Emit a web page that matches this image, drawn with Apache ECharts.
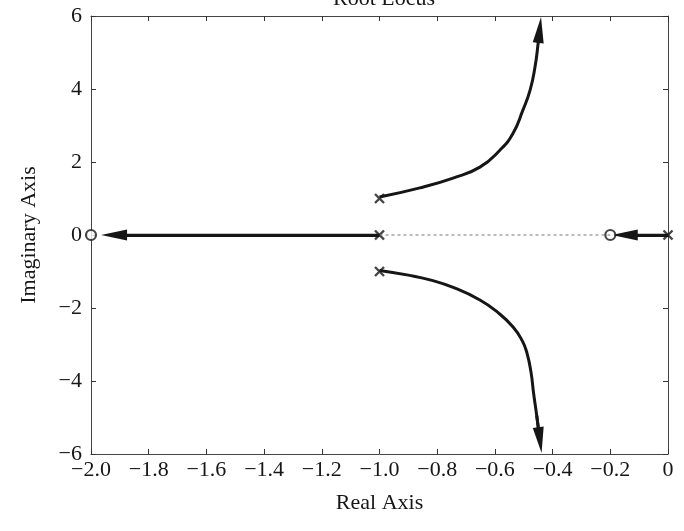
<!DOCTYPE html>
<html>
<head>
<meta charset="utf-8">
<script src="https://cdn.jsdelivr.net/npm/echarts@6/dist/echarts.min.js"></script>
<style>
html, body { margin: 0; padding: 0; background: #fff; }
#chart { width: 684px; height: 531px; }
</style>
</head>
<body>
<div id="chart"></div>
<script>
// locus branches (real, imaginary)
var upperRe = [-1.0, -0.86, -0.745, -0.652, -0.582, -0.537, -0.503, -0.478, -0.461, -0.450, -0.445];
var upperIm = [1.04, 1.29, 1.56, 1.86, 2.33, 2.79, 3.42, 3.97, 4.60, 5.26, 5.62];
var lowerRe = [-1.0, -0.90, -0.825, -0.74, -0.652, -0.59, -0.537, -0.505, -0.489, -0.475, -0.466, -0.455, -0.444];
var lowerIm = [-0.97, -1.10, -1.23, -1.45, -1.78, -2.12, -2.52, -2.90, -3.23, -3.75, -4.33, -4.95, -5.62];
// poles and zeros
var poles = [[-1, 1], [-1, 0], [-1, -1], [0, 0]];
var zeros = [[-2, 0], [-0.2, 0]];
// real axis segments
var leftSeg = [[-1, 0], [-1.92, 0]];
var rightSeg = [[0, 0], [-0.15, 0]];
var dashSeg = [[-1, 0], [-0.2, 0]];

function pairs(re, im) {
    var out = [];
    for (var i = 0; i < re.length; i++) out.push([re[i], im[i]]);
    return out;
}
var upper = pairs(upperRe, upperIm);
var lower = pairs(lowerRe, lowerIm);

var ink = '#161616';
var font = 'Liberation Serif, Times New Roman, serif';
var tri = 'path://M5,0 L10,24 L0,24 Z';

function fmtX(v) {
    if (Math.abs(v) < 1e-9) return '0';
    return '\u2212' + Math.abs(v).toFixed(1);
}
function fmtY(v) {
    if (v < 0) return '\u2212' + Math.abs(v);
    return '' + v;
}

var chart = echarts.init(document.getElementById('chart'));
var axisLine = { show: true, onZero: false, lineStyle: { color: '#444', width: 1 } };
var tick = { show: true, inside: true, length: 5, lineStyle: { color: '#333' } };
var option = {
    backgroundColor: '#fff',
    animation: false,
    title: {
        text: 'Root Locus',
        left: 379, top: -17, textAlign: 'center',
        textStyle: { fontFamily: font, fontSize: 22, fontWeight: 'normal', color: ink }
    },
    grid: { left: 91, right: 16, top: 16, bottom: 77 },
    xAxis: [{
        type: 'value', min: -2, max: 0, interval: 0.2,
        name: 'Real Axis', nameLocation: 'middle', nameGap: 38,
        nameTextStyle: { fontFamily: font, fontSize: 22, color: ink },
        axisLine: axisLine, axisTick: tick,
        axisLabel: { formatter: fmtX, fontFamily: font, fontSize: 22, color: ink, margin: 5 },
        splitLine: { show: false }
    }, {
        type: 'value', min: -2, max: 0, interval: 0.2, position: 'top',
        axisLine: axisLine, axisTick: tick,
        axisLabel: { show: false }, splitLine: { show: false }
    }],
    yAxis: [{
        type: 'value', min: -6, max: 6, interval: 2,
        name: 'Imaginary Axis', nameLocation: 'middle', nameGap: 51,
        nameTextStyle: { fontFamily: font, fontSize: 22, color: ink },
        axisLine: axisLine, axisTick: tick,
        axisLabel: { formatter: fmtY, fontFamily: font, fontSize: 22, color: ink, margin: 9 },
        splitLine: { show: false }
    }, {
        type: 'value', min: -6, max: 6, interval: 2, position: 'right',
        axisLine: axisLine, axisTick: tick,
        axisLabel: { show: false }, splitLine: { show: false }
    }],
    series: [
        {
            type: 'line', data: dashSeg, showSymbol: false,
            lineStyle: { color: '#777', width: 1, type: [3, 3] }
        },
        {
            type: 'line', data: upper, smooth: 0.5, showSymbol: false,
            lineStyle: { color: ink, width: 3 }
        },
        {
            type: 'line', data: lower, smooth: 0.5, showSymbol: false,
            lineStyle: { color: ink, width: 3 }
        },
        {
            type: 'line', data: leftSeg, showSymbol: false,
            lineStyle: { color: ink, width: 2.5 }
        },
        {
            type: 'line', data: rightSeg, showSymbol: false,
            lineStyle: { color: ink, width: 2.5 }
        },
        {
            // arrow heads
            type: 'lines', coordinateSystem: 'cartesian2d',
            symbol: ['none', tri], symbolSize: [0, [11, 26]],
            lineStyle: { color: ink, width: 3, opacity: 1 },
            itemStyle: { color: ink },
            data: [
                { coords: [upper[upper.length - 2], upper[upper.length - 1]] },
                { coords: [lower[lower.length - 2], lower[lower.length - 1]] },
                { coords: leftSeg },
                { coords: rightSeg }
            ]
        },
        {
            type: 'scatter', data: poles, symbol: 'path://M0,0 L10,10 M10,0 L0,10',
            symbolSize: 9,
            itemStyle: { color: 'none', borderColor: ink, borderWidth: 2.4 }
        },
        {
            type: 'scatter', data: zeros, symbol: 'circle', symbolSize: 10,
            itemStyle: { color: '#fff', borderColor: ink, borderWidth: 2.2 }
        }
    ]
};
chart.setOption(option);
</script>
</body>
</html>
